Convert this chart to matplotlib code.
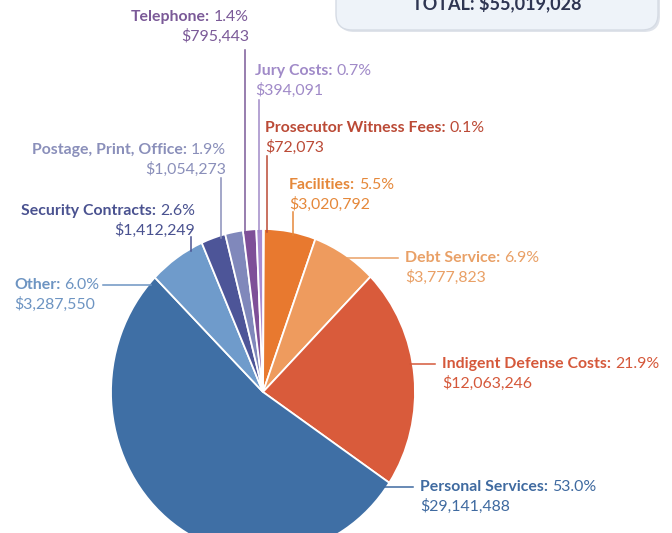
import numpy as np
import matplotlib.pyplot as plt
from matplotlib.patches import FancyBboxPatch

plt.rcParams['font.family'] = ['Lato', 'DejaVu Sans']
fonts = 11.4

# slices, clockwise from the top
names = ['Prosecutor Witness Fees', 'Facilities', 'Debt Service',
         'Indigent Defense Costs', 'Personal Services', 'Other',
         'Security Contracts', 'Postage, Print, Office', 'Telephone',
         'Jury Costs']
pcts = [0.1, 5.5, 6.9, 21.9, 53.0, 6.0, 2.6, 1.9, 1.4, 0.7]
amounts = ['$72,073', '$3,020,792', '$3,777,823', '$12,063,246',
           '$29,141,488', '$3,287,550', '$1,412,249', '$1,054,273',
           '$795,443', '$394,091']
total = '$55,019,028'

wedge_colors = ['#c9503c', '#e8792f', '#ee9b5e', '#d95b3b', '#3f6fa5',
                '#6f9bcb', '#4d5598', '#8088bb', '#7e4f98', '#a98bd0']
text_colors = ['#bb4a36', '#e5883a', '#e9a066', '#d5583a', '#3f6aa0',
               '#6d94c2', '#4a5290', '#8a8fba', '#7b5a98', '#a08ac8']

# pie geometry in pixels (the original pie is slightly taller than wide)
W, H = 672, 533
cx, cy, rx, ry = 263, 392, 152, 163

# label layout: (x, y of first line, alignment, leader line)
# leader: ('v', x, y_start) vertical down to pie, ('h', y, x_end) horizontal
layout = {
    'Prosecutor Witness Fees': (265, 128, 'left', ('v', 267, 156)),
    'Facilities': (289, 185, 'left', ('v', 293, 212)),
    'Debt Service': (405, 258, 'left', ('h', 258, 398)),
    'Indigent Defense Costs': (442, 364, 'left', ('h', 364, 435)),
    'Personal Services': (420, 487, 'left', ('h', 487, 413)),
    'Other': (14, 285, 'left', ('h', 285, 103)),
    'Security Contracts': (195, 211, 'right', ('v', 191, 237)),
    'Postage, Print, Office': (226, 150, 'right', ('v', 221, 178)),
    'Telephone': (249, 17, 'right', ('v', 245, 50)),
    'Jury Costs': (255, 71, 'left', ('v', 259, 100)),
}

fig = plt.figure(figsize=(W / 100, H / 100), dpi=100)

# pie axes
pax = fig.add_axes([(cx - rx) / W, 1 - (cy + ry) / H, 2 * rx / W, 2 * ry / H])
pax.pie(pcts, colors=wedge_colors, startangle=90, counterclock=False,
        wedgeprops=dict(edgecolor='white', linewidth=1.3))
pax.set_aspect('auto')
pax.set_xlim(-1, 1)
pax.set_ylim(-1, 1)
pax.axis('off')

# overlay axes in pixel coordinates
ax = fig.add_axes([0, 0, 1, 1])
ax.set_xlim(0, W)
ax.set_ylim(H, 0)
ax.axis('off')
ax.patch.set_alpha(0)

# total box at the top (cut by the top edge, as in the original)
shadow = FancyBboxPatch((338, -30), 322, 62, boxstyle='round,pad=0,rounding_size=16',
                        facecolor='#dfe3ea', edgecolor='none')
box = FancyBboxPatch((336, -32), 322, 62, boxstyle='round,pad=0,rounding_size=16',
                     facecolor='#eef3f9', edgecolor='#d5dbe4', linewidth=1)
ax.add_patch(shadow)
ax.add_patch(box)
ax.text(497, 9, 'TOTAL: ' + total, fontsize=13, fontweight='bold', color='#2e3552',
        ha='center', va='baseline')

renderer = fig.canvas.get_renderer()


def width_px(t):
    bb = t.get_window_extent(renderer=renderer)
    return bb.width


def pie_edge_y(x):
    return cy - ry * np.sqrt(1 - ((x - cx) / rx) ** 2)


def pie_edge_x(y, side):
    return cx + side * rx * np.sqrt(1 - ((y - cy) / ry) ** 2)


for name, pct, amt, col in zip(names, pcts, amounts, text_colors):
    x, y, ha, leader = layout[name]
    t1 = ax.text(0, y, name + ':', fontsize=fonts, fontweight='bold', color=col,
                 va='center', ha='left')
    t2 = ax.text(0, y, '%.1f%%' % pct, fontsize=fonts, color=col, va='center', ha='left')
    w1, w2 = width_px(t1), width_px(t2)
    gap = 4
    x0 = x if ha == 'left' else x - (w1 + gap + w2)
    t1.set_x(x0)
    t2.set_x(x0 + w1 + gap)
    ax.text(x, y + 19, amt, fontsize=fonts, color=col, va='center', ha=ha)

    if leader[0] == 'v':
        lx, ly = leader[1], leader[2]
        ax.plot([lx, lx], [ly, pie_edge_y(lx) + 3], color=col, lw=1.1)
    else:
        ly, lx = leader[1], leader[2]
        side = 1 if lx > cx else -1
        ax.plot([lx, pie_edge_x(ly, side) - side * 3], [ly, ly], color=col, lw=1.1)

plt.savefig('out.png', dpi=100)
